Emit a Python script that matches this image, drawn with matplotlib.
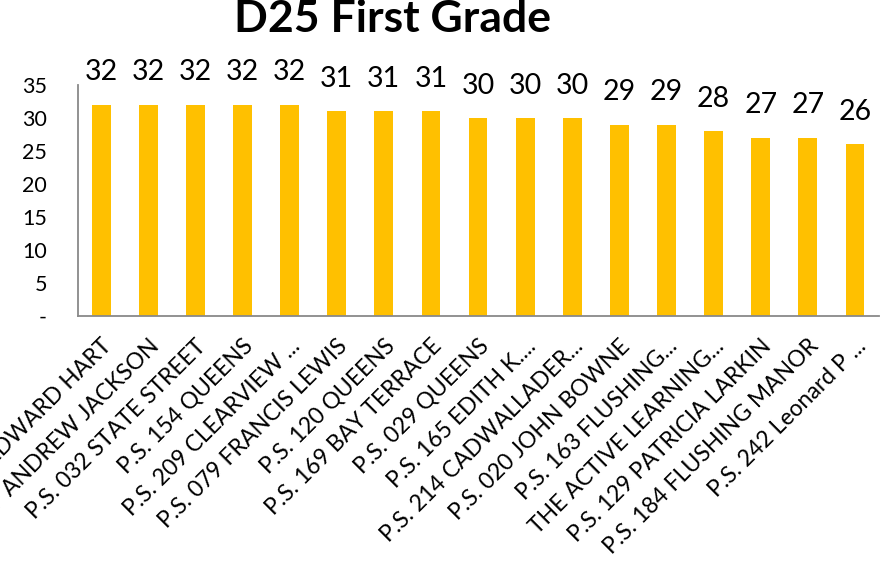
import matplotlib.pyplot as plt
import numpy as np

# data
schools = ['P.S. 021 EDWARD HART', 'SCHOOL OF ANDREW JACKSON', 'P.S. 032 STATE STREET',
           'P.S. 154 QUEENS', 'P.S. 209 CLEARVIEW ...', 'P.S. 079 FRANCIS LEWIS',
           'P.S. 120 QUEENS', 'P.S. 169 BAY TERRACE', 'P.S. 029 QUEENS',
           'P.S. 165 EDITH K....', 'P.S. 214 CADWALLADER...', 'P.S. 020 JOHN BOWNE',
           'P.S. 163 FLUSHING...', 'THE ACTIVE LEARNING...', 'P.S. 129 PATRICIA LARKIN',
           'P.S. 184 FLUSHING MANOR', 'P.S. 242 Leonard P ...']
class_size = [32, 32, 32, 32, 32, 31, 31, 31, 30, 30, 30, 29, 29, 28, 27, 27, 26]
yticks = [0, 5, 10, 15, 20, 25, 30, 35]
ytick_labels = ['-', '5', '10', '15', '20', '25', '30', '35']

plt.rcParams['font.family'] = ['Lato', 'DejaVu Sans']

fig = plt.figure(figsize=(8.87, 5.64), dpi=100)
ax = fig.add_axes([0.0874, 0.4397, 0.9031, 0.4096])

x = np.arange(len(schools))
bars = ax.bar(x, class_size, width=0.4, color='#FFC000')
for xi, v in zip(x, class_size):
    ax.annotate(str(v), (xi, v), xytext=(0, 14), textcoords='offset points',
                ha='center', va='bottom', fontsize=20.5)

ax.set_xlim(-0.5, len(schools) - 0.5)
ax.set_ylim(0, 35)
ax.set_yticks(yticks)
ax.set_yticklabels(ytick_labels, fontsize=15.5)
ax.set_xticks(x)
ax.set_xticklabels(schools, fontsize=16.5, rotation=45, ha='right', rotation_mode='anchor')
ax.tick_params(axis='y', length=0, pad=22)
ax.tick_params(axis='x', length=0, pad=14)

for s in ['top', 'right']:
    ax.spines[s].set_visible(False)
for s in ['left', 'bottom']:
    ax.spines[s].set_color('#898989')
    ax.spines[s].set_linewidth(1.3)

fig.text(0.443, 0.966, 'D25 First Grade', ha='center', va='center', fontsize=32, fontweight='bold')

fig.savefig('out.png', dpi=100)
